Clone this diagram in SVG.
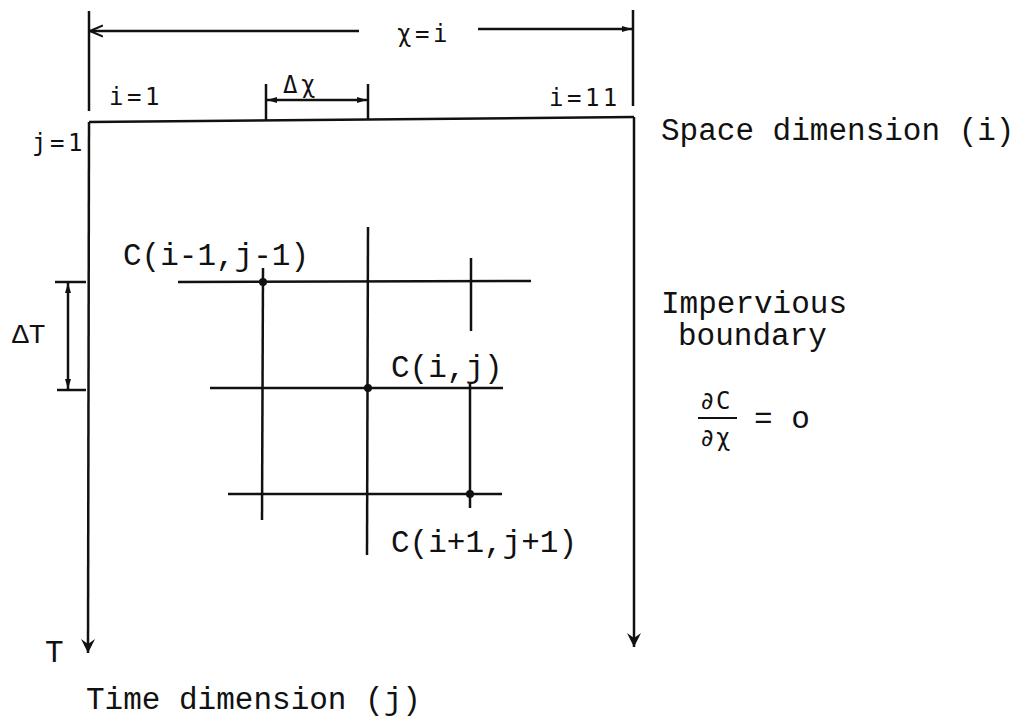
<svg xmlns="http://www.w3.org/2000/svg" width="1025" height="717" viewBox="0 0 1025 717">
<defs>
<style>
.ln{stroke:#111;stroke-width:2.5;fill:none;stroke-linecap:butt}
.tw{font-family:"Liberation Mono","Courier New",monospace;font-size:31px;fill:#111}
.lg{font-family:"DejaVu Sans Mono","Liberation Mono",monospace;font-size:24px;letter-spacing:3.5px;fill:#111}
.dot{fill:#111}
</style>
<marker id="fa" viewBox="0 0 10 10" refX="10" refY="5" markerWidth="10" markerHeight="10" markerUnits="userSpaceOnUse" orient="auto-start-reverse">
<path d="M0,2 L10,5 L0,8 Z" fill="#111"/>
</marker>
<marker id="oa" viewBox="0 0 14 14" refX="13" refY="7" markerWidth="14" markerHeight="14" markerUnits="userSpaceOnUse" orient="auto-start-reverse">
<path d="M0,1.5 L13,7 L0,12.5" fill="none" stroke="#111" stroke-width="2"/>
</marker>
<marker id="ya" viewBox="0 0 14 20" refX="14" refY="10" markerWidth="14" markerHeight="20" markerUnits="userSpaceOnUse" orient="auto">
<path d="M0,3 L14,10 L0,17 L5,10 Z" fill="#111"/>
</marker>
</defs>
<rect width="1025" height="717" fill="#fff"/>

<g id="connectors">
<line class="ln" x1="89" y1="11" x2="89" y2="111"/>
<line class="ln" x1="633" y1="10" x2="633" y2="106"/>
<line class="ln" x1="359" y1="31" x2="90" y2="31" marker-end="url(#oa)"/>
<line class="ln" x1="478" y1="29" x2="632" y2="29" marker-end="url(#fa)"/>
<line class="ln" x1="266" y1="84" x2="266" y2="121"/>
<line class="ln" x1="368" y1="84" x2="368" y2="119"/>
<line class="ln" x1="267" y1="100" x2="367" y2="100" marker-start="url(#fa)" marker-end="url(#fa)"/>
<line class="ln" x1="89" y1="122" x2="634" y2="117"/>
<line class="ln" x1="89" y1="122" x2="88" y2="653" marker-end="url(#ya)"/>
<line class="ln" x1="634" y1="117" x2="634" y2="647" marker-end="url(#ya)"/>
<line class="ln" x1="55" y1="282" x2="86" y2="282"/>
<line class="ln" x1="57" y1="390" x2="86" y2="390"/>
<line class="ln" x1="68" y1="283" x2="68" y2="389" marker-start="url(#fa)" marker-end="url(#fa)"/>
<line class="ln" x1="178" y1="282" x2="531" y2="281"/>
<line class="ln" x1="210" y1="388" x2="503" y2="388"/>
<line class="ln" x1="228" y1="494" x2="502" y2="494"/>
<line class="ln" x1="263" y1="268" x2="262" y2="520"/>
<line class="ln" x1="368" y1="227" x2="367" y2="555"/>
<line class="ln" x1="471" y1="258" x2="471" y2="331"/>
<line class="ln" x1="470" y1="383" x2="470" y2="508"/>
<line class="ln" x1="698" y1="418" x2="737" y2="418" style="stroke-width:2"/>
</g>

<g id="node-points">
<circle class="dot" cx="263" cy="282" r="4"/>
<circle class="dot" cx="368" cy="388" r="4"/>
<circle class="dot" cx="470" cy="494" r="4"/>
</g>

<g id="labels-top">
<text class="lg" x="397" y="42">χ=i</text>
<text class="lg" x="283" y="93">Δχ</text>
<text class="lg" x="109" y="105">i=1</text>
<text class="lg" x="549" y="106">i=11</text>
<text class="lg" x="32" y="151">j=1</text>
</g>

<g id="labels-grid">
<text class="tw" x="123" y="265">C(i-1,j-1)</text>
<text class="tw" x="391" y="377">C(i,j)</text>
<text class="tw" x="391" y="552">C(i+1,j+1)</text>
<text class="tw" x="12" y="343" style="font-size:28px">ΔT</text>
</g>

<g id="labels-right">
<text class="tw" x="661" y="140">Space dimension (i)</text>
<text class="tw" x="661" y="313">Impervious</text>
<text class="tw" x="678" y="345">boundary</text>
<text class="lg" x="700" y="409" style="letter-spacing:1.5px">∂C</text>
<text class="lg" x="700" y="446" style="letter-spacing:1.5px">∂χ</text>
<text class="tw" x="754" y="428">= o</text>
</g>

<g id="labels-bottom">
<text class="tw" x="45" y="662">T</text>
<text class="tw" x="86" y="709">Time dimension (j)</text>
</g>
</svg>
